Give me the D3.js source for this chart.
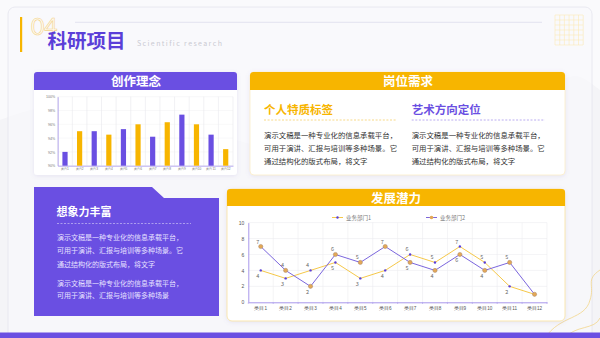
<!DOCTYPE html>
<html>
<head>
<meta charset="utf-8">
<script src="https://cdn.jsdelivr.net/npm/d3@7/dist/d3.min.js"></script>
<style>
  body { margin: 0; background: #f5f5f8; }
  svg { display: block; font-family: "Noto Sans CJK SC", "Noto Sans", sans-serif; }
</style>
</head>
<body>
<div id="canvas"></div>
<script>
// ---- data ----
const barCats = ["类目1","类目2","类目3","类目4","类目5","类目6","类目7","类目8","类目9","类目10","类目11","类目12"];
const barValues = [92, 95, 95, 94.5, 95.3, 96, 94.2, 96.3, 97.4, 96, 94.5, 92.4];
const barTicks = [90, 92, 94, 96, 98, 100];

const lineCats = ["类目1","类目2","类目3","类目4","类目5","类目6","类目7","类目8","类目9","类目10","类目11","类目12"];
const seriesNames = ["业务部门1", "业务部门2"];
const series1 = [4, 3, 4, 5, 3, 4, 6, 5, 7, 5, 2, 1];
const series2 = [7, 4, 2, 6, 5, 7, 5, 4, 6, 4, 5, 1];
const lineTicks = [0, 2, 4, 6, 8, 10];

const pageTitle = "科研项目";
const pageNum = "04";
const pageSub = "Scientific research";
const panelTitles = ["创作理念", "岗位需求", "想象力丰富", "发展潜力"];
const tagTitles = ["个人特质标签", "艺术方向定位"];
const bodyLines = ["演示文稿是一种专业化的信息承载平台，", "可用于演讲、汇报与培训等多种场景。它", "通过结构化的版式布局，将文字"];
const bodyLines2 = ["演示文稿是一种专业化的信息承载平台，", "可用于演讲、汇报与培训等多种场景"];

const purple = "#6a4fe2", yellow = "#f7b500";

var svg = d3.select("#canvas").append("svg")
    .attr("width", 600)
    .attr("height", 338);

var defs = svg.append("defs");
var sh = defs.append("filter").attr("id", "shadow").attr("x", "-10%").attr("y", "-10%").attr("width", "120%").attr("height", "130%");
sh.append("feDropShadow").attr("dx", 0).attr("dy", 1).attr("stdDeviation", 2).attr("flood-color", "#8070c0").attr("flood-opacity", 0.15);

// background + frame
svg.append("rect").attr("width", 600).attr("height", 338).attr("fill", "#f4f4f7");
svg.append("path")
    .attr("d", "M0,120 C150,60 250,200 420,140 S560,60 600,90 L600,0 L0,0 Z")
    .attr("fill", "#fbfbfd").attr("opacity", 0.8);
svg.append("rect")
    .attr("x", 8).attr("y", 7).attr("width", 584).attr("height", 340).attr("rx", 7)
    .attr("fill", "#f9f9fb").attr("fill-opacity", 0.6).attr("stroke", "#e4e4ee").attr("stroke-width", 0.8);

// grid decoration top right
var deco = svg.append("g").attr("stroke", "#fbe9b5").attr("stroke-width", 0.6);
for (let i = 0; i <= 6; i++) {
    deco.append("line").attr("x1", 555 + i * 4.7).attr("x2", 555 + i * 4.7).attr("y1", 15).attr("y2", 45);
    deco.append("line").attr("x1", 555).attr("x2", 583).attr("y1", 15 + i * 5).attr("y2", 15 + i * 5);
}
// curves bottom right
svg.append("path").attr("d", "M545,338 C560,315 585,320 590,300 C595,285 585,280 600,270")
    .attr("fill", "none").attr("stroke", "#f3d68a").attr("stroke-width", 0.8);
svg.append("path").attr("d", "M565,338 C575,325 595,330 600,318")
    .attr("fill", "none").attr("stroke", "#f3d68a").attr("stroke-width", 0.8);

// title
svg.append("rect").attr("x", 20).attr("y", 17).attr("width", 2.2).attr("height", 35).attr("fill", yellow);
svg.append("line").attr("x1", 75).attr("x2", 542).attr("y1", 22.3).attr("y2", 22.3).attr("stroke", "#dcdcec").attr("stroke-width", 0.8);
svg.append("text").attr("x", 31).attr("y", 35).text(pageNum)
    .attr("font-size", 23).attr("font-family", "Lato, sans-serif").attr("fill", "#fffaf0")
    .attr("stroke", "#f3d48c").attr("stroke-width", 0.6);
svg.append("text").attr("x", 47.5).attr("y", 47.5).text(pageTitle)
    .attr("font-size", 19.5).attr("font-weight", "bold").attr("fill", "#5b3fd8");
svg.append("text").attr("x", 137).attr("y", 46).text(pageSub)
    .attr("font-size", 7).attr("letter-spacing", 1.4).attr("fill", "#c9c9d2");

// bottom bar
svg.append("rect").attr("x", 0).attr("y", 332.5).attr("width", 600).attr("height", 6).attr("fill", purple);

// ---------- panel 1: bar chart ----------
svg.append("rect").attr("x", 34).attr("y", 72).attr("width", 203).attr("height", 103).attr("rx", 3)
    .attr("fill", "#ffffff").attr("filter", "url(#shadow)");
svg.append("path").attr("d", "M34,90 L34,75 Q34,72 37,72 L234,72 Q237,72 237,75 L237,90 Z").attr("fill", purple);
svg.append("text").attr("x", 136).attr("y", 85.5).attr("text-anchor", "middle").text(panelTitles[0])
    .attr("font-size", 12.5).attr("font-weight", "bold").attr("fill", "#fff");

var bx = d3.scaleBand().domain(barCats).range([57.7, 233]);
var by = d3.scaleLinear().domain([90, 100]).range([165.7, 96.7]);
var bar = svg.append("g");
bar.selectAll(".hgrid").data(barTicks).enter().append("line")
    .attr("x1", 57.7).attr("x2", 233).attr("y1", d => by(d)).attr("y2", d => by(d))
    .attr("stroke", "#f0f0f3").attr("stroke-width", 0.5);
bar.selectAll(".vgrid").data(d3.range(barCats.length + 1)).enter().append("line")
    .attr("x1", i => 57.7 + i * bx.step()).attr("x2", i => 57.7 + i * bx.step())
    .attr("y1", 96.7).attr("y2", 165.7)
    .attr("stroke", "#e8e8ec").attr("stroke-width", 0.6);
bar.append("g").attr("transform", "translate(57.7,0)")
    .call(d3.axisLeft(by).tickValues(barTicks).tickFormat(d => d + "%").tickSize(0).tickPadding(2.5))
    .call(g => g.select(".domain").attr("stroke", "#a898ec").attr("stroke-width", 0.8))
    .call(g => g.selectAll("text").attr("font-size", 3.6).attr("fill", "#777"));
bar.append("g").attr("transform", "translate(0,165.7)")
    .call(d3.axisBottom(bx).tickSize(0).tickPadding(2.5))
    .call(g => g.select(".domain").attr("stroke", "#a898ec").attr("stroke-width", 0.8))
    .call(g => g.selectAll("text").attr("font-size", 3.2).attr("fill", "#777"));
bar.selectAll("rect.bar").data(barValues).enter().append("rect")
    .attr("class", "bar")
    .attr("x", (d, i) => bx(barCats[i]) + bx.bandwidth() / 2 - 2.6)
    .attr("y", d => by(d))
    .attr("width", 5.2)
    .attr("height", d => by(90) - by(d))
    .attr("fill", (d, i) => i % 2 === 0 ? purple : yellow);

// ---------- panel 2: 岗位需求 ----------
svg.append("rect").attr("x", 250).attr("y", 72).attr("width", 315).attr("height", 103).attr("rx", 4)
    .attr("fill", "#ffffff").attr("stroke", "#fbeec8").attr("stroke-width", 0.8).attr("filter", "url(#shadow)");
svg.append("path").attr("d", "M250,90 L250,75.5 Q250,72 253.5,72 L561.5,72 Q565,72 565,75.5 L565,90 Z").attr("fill", yellow);
svg.append("text").attr("x", 408).attr("y", 85.5).attr("text-anchor", "middle").text(panelTitles[1])
    .attr("font-size", 12.5).attr("font-weight", "bold").attr("fill", "#fff");

[[264, yellow, "#f5cf6a", 397], [411.7, "#6a4fe2", "#a898ec", 545]].forEach((c, k) => {
    svg.append("text").attr("x", c[0]).attr("y", 113.5).text(tagTitles[k])
        .attr("font-size", 11.5).attr("font-weight", "bold").attr("fill", c[1]);
    svg.append("line").attr("x1", c[0]).attr("x2", c[3]).attr("y1", 120).attr("y2", 120)
        .attr("stroke", c[2]).attr("stroke-width", 0.8).attr("stroke-dasharray", "2,1.6");
    svg.selectAll(null).data(bodyLines).enter().append("text")
        .attr("x", c[0]).attr("y", (d, i) => 137.5 + i * 13)
        .text(d => d).attr("font-size", 7.4).attr("fill", "#333");
});

// ---------- panel 3: 想象力丰富 ----------
svg.append("path").attr("d", "M34,187 L152,187 L164,198 L219,198 L219,316 L34,316 Z").attr("fill", purple);
svg.append("text").attr("x", 56.5).attr("y", 216).text(panelTitles[2])
    .attr("font-size", 11).attr("font-weight", "bold").attr("fill", "#fff");
svg.append("line").attr("x1", 57).attr("x2", 191).attr("y1", 223.5).attr("y2", 223.5)
    .attr("stroke", "#c9bff5").attr("stroke-width", 0.7).attr("stroke-dasharray", "2,1.5");
svg.selectAll(null).data(bodyLines).enter().append("text")
    .attr("x", 57).attr("y", (d, i) => 240 + i * 13.3)
    .text(d => d).attr("font-size", 7).attr("fill", "#e6e0ff");
svg.selectAll(null).data(bodyLines2).enter().append("text")
    .attr("x", 57).attr("y", (d, i) => 285.5 + i * 12.5)
    .text(d => d).attr("font-size", 7).attr("fill", "#e6e0ff");

// ---------- panel 4: line chart ----------
svg.append("rect").attr("x", 227).attr("y", 189).attr("width", 338).attr("height", 132).attr("rx", 5)
    .attr("fill", "#ffffff").attr("stroke", "#f9e4a8").attr("stroke-width", 0.9).attr("filter", "url(#shadow)");
svg.append("path").attr("d", "M227,206 L227,192 Q227,189 230,189 L562,189 Q565,189 565,192 L565,206 Z").attr("fill", yellow);
svg.append("text").attr("x", 396).attr("y", 202.5).attr("text-anchor", "middle").text(panelTitles[3])
    .attr("font-size", 12.5).attr("font-weight", "bold").attr("fill", "#fff");

var lx = d3.scaleBand().domain(lineCats).range([248.3, 547]);
var ly = d3.scaleLinear().domain([0, 10]).range([302.3, 222.6]);
var cx = c => lx(c) + lx.bandwidth() / 2;
var lc = svg.append("g");
lc.selectAll(".hgrid").data(lineTicks.slice(1)).enter().append("line")
    .attr("x1", 248.3).attr("x2", 547).attr("y1", d => ly(d)).attr("y2", d => ly(d))
    .attr("stroke", "#ececf0").attr("stroke-width", 0.6);
lc.selectAll(".vgrid").data(d3.range(1, lineCats.length + 1)).enter().append("line")
    .attr("x1", i => 248.3 + i * lx.step()).attr("x2", i => 248.3 + i * lx.step())
    .attr("y1", 222.6).attr("y2", 302.3)
    .attr("stroke", "#ececf0").attr("stroke-width", 0.6);
lc.append("g").attr("transform", "translate(248.3,0)")
    .call(d3.axisLeft(ly).tickValues(lineTicks).tickSize(0).tickPadding(4))
    .call(g => g.select(".domain").attr("stroke", "#a898ec").attr("stroke-width", 1))
    .call(g => g.selectAll("text").attr("font-size", 5).attr("fill", "#555"));
lc.append("g").attr("transform", "translate(0,302.3)")
    .call(d3.axisBottom(lx).tickSize(0).tickPadding(4))
    .call(g => g.select(".domain").attr("stroke", "#a898ec").attr("stroke-width", 1))
    .call(g => g.selectAll("text").attr("font-size", 4.6).attr("fill", "#555"));
lc.selectAll(".xtick").data(d3.range(lineCats.length + 1)).enter().append("line")
    .attr("x1", i => 248.3 + i * lx.step()).attr("x2", i => 248.3 + i * lx.step())
    .attr("y1", 302.3).attr("y2", 304)
    .attr("stroke", "#a898ec").attr("stroke-width", 0.6);

var line = d3.line().x((d, i) => cx(lineCats[i])).y(d => ly(d));
lc.append("path").datum(series1).attr("d", line).attr("fill", "none").attr("stroke", "#f5c84a").attr("stroke-width", 1);
lc.append("path").datum(series2).attr("d", line).attr("fill", "none").attr("stroke", "#7b66dd").attr("stroke-width", 1);
lc.selectAll(".dot1").data(series1).enter().append("circle")
    .attr("cx", (d, i) => cx(lineCats[i])).attr("cy", d => ly(d)).attr("r", 1.2).attr("fill", "#5a3fd8");
lc.selectAll(".dot2").data(series2).enter().append("circle")
    .attr("cx", (d, i) => cx(lineCats[i])).attr("cy", d => ly(d)).attr("r", 2.1)
    .attr("fill", "#e3a857").attr("stroke", "#a8866a").attr("stroke-width", 0.5);

// point labels: higher value above, lower value below, hidden when equal
[series1, series2].forEach((s, k) => {
    var other = k === 0 ? series2 : series1;
    lc.selectAll(null).data(s).enter().append("text")
        .filter((d, i) => d !== other[i])
        .attr("x", (d, i) => cx(lineCats[i]) - 3)
        .attr("y", (d, i) => d > other[i] ? ly(d) - 3 : ly(d) + 8)
        .attr("text-anchor", "middle")
        .text(d => d).attr("font-size", 5.5).attr("fill", "#666");
});

// legend
[[332, "#f5c84a", "#5a3fd8", 1.2], [426, "#7b66dd", "#e3a857", 1.8]].forEach((c, k) => {
    var g = svg.append("g");
    g.append("line").attr("x1", c[0]).attr("x2", c[0] + 11).attr("y1", 217.5).attr("y2", 217.5).attr("stroke", c[1]).attr("stroke-width", 1);
    g.append("circle").attr("cx", c[0] + 5.5).attr("cy", 217.5).attr("r", c[3]).attr("fill", c[2]);
    g.append("text").attr("x", c[0] + 14).attr("y", 219.5).text(seriesNames[k]).attr("font-size", 5.5).attr("fill", "#777");
});
</script>
</body>
</html>
